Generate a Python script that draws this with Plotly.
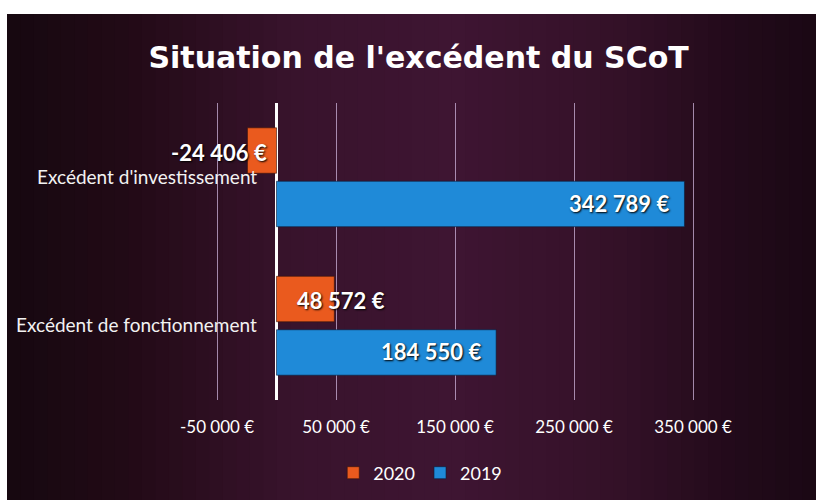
import plotly.graph_objects as go

categories = ["Excédent de fonctionnement", "Excédent d'investissement"]
values_2019 = [184550, 342789]
values_2020 = [48572, -24406]
tick_values = [-50000, 50000, 150000, 250000, 350000]
title_text = "Situation de l'excédent du SCoT"

NS = "\u202f"

def fmt(v):
    s = f"{abs(v):,d}".replace(",", NS)
    return ("-" if v < 0 else "") + s + NS + "€"

W, H = 816, 500
fig = go.Figure()

# background gradient strips (style only)
stops = [(0.0, (22, 8, 16)), (0.15, (34, 10, 22)), (0.35, (56, 19, 44)),
         (0.55, (62, 21, 50)), (0.75, (52, 17, 40)), (0.9, (34, 10, 26)), (1.0, (26, 8, 20))]

def col(t):
    for (a, ca), (b, cb) in zip(stops[:-1], stops[1:]):
        if a <= t <= b:
            f = (t - a) / (b - a)
            c = [round(ca[i] + (cb[i] - ca[i]) * f) for i in range(3)]
            return f"rgb({c[0]},{c[1]},{c[2]})"
    return "rgb(26,8,20)"

x0 = 7 / W
n = 60
shapes = []
for i in range(n):
    a = x0 + (1 - x0) * i / n
    b = x0 + (1 - x0) * (i + 1) / n + 0.002
    shapes.append(dict(type="rect", xref="paper", yref="paper", x0=a, x1=min(b, 1),
                       y0=0, y1=1 - 14 / H, fillcolor=col((i + 0.5) / n),
                       line=dict(width=0), layer="below"))

fig.add_trace(go.Bar(y=categories, x=values_2019, name="2019", orientation="h",
                     marker=dict(color="#1f8ad8", line=dict(color="rgba(10,30,60,0.6)", width=1)),
                     textposition="none", hoverinfo="skip"))
fig.add_trace(go.Bar(y=categories, x=values_2020, name="2020", orientation="h",
                     marker=dict(color="#ea5a1e", line=dict(color="rgba(60,20,10,0.6)", width=1)),
                     textposition="none", hoverinfo="skip"))

lab_font = dict(family="Lato, sans-serif", size=22, color="white",
                weight="bold", shadow="1px 1px 2px #000")
annotations = []
# 2019 labels: inside end
for c, v in zip(categories, values_2019):
    annotations.append(dict(x=v, y=c, xref="x", yref="y", text=fmt(v), showarrow=False,
                            xanchor="right", xshift=-12, yshift=-26, font=lab_font))
# 2020 labels: inside base
for c, v in zip(categories, values_2020):
    annotations.append(dict(x=0, y=c, xref="x", yref="y", text=fmt(v), showarrow=False,
                            xanchor="right" if v < 0 else "left",
                            xshift=-8 if v < 0 else 18, yshift=25, font=lab_font))
# category labels next to the zero axis
for c in categories:
    annotations.append(dict(x=0, y=c, xref="x", yref="y", text=c, showarrow=False,
                            xanchor="right", xshift=-18, yshift=1,
                            font=dict(family="Lato, sans-serif", size=19, color="#f2f2f2")))

upp = 840.3
r0 = -276.5 * upp
r1 = r0 + W * upp

fig.update_layout(
    width=W, height=H,
    paper_bgcolor="white", plot_bgcolor="rgba(0,0,0,0)",
    margin=dict(l=0, r=0, t=0, b=0),
    shapes=shapes, annotations=annotations,
    barmode="group", bargap=0.28, bargroupgap=0.15,
    separators=", ",
    title=dict(text=f"<b>{title_text}</b>", x=0.513, xanchor="center", y=1 - 57 / H,
               yanchor="middle", font=dict(family="DejaVu Sans, sans-serif", size=30, color="white")),
    xaxis=dict(range=[r0, r1], domain=[0, 1], tickvals=tick_values,
               ticktext=[fmt(v) for v in tick_values],
               showgrid=True, gridcolor="rgba(215,190,230,0.7)", gridwidth=1,
               zeroline=True, zerolinecolor="white", zerolinewidth=3,
               ticks="outside", ticklen=0, ticklabelstandoff=12,
               tickfont=dict(family="Lato, sans-serif", size=17, color="white"),
               showline=False, fixedrange=True),
    yaxis=dict(domain=[100 / H, (H - 103) / H], range=[-0.5, 1.5], showticklabels=False,
               showgrid=False, zeroline=False, ticks="", fixedrange=True),
    legend=dict(orientation="h", x=0.515, xanchor="center", y=27 / H, yanchor="middle",
                traceorder="reversed", font=dict(family="Lato, sans-serif", size=18, color="white"),
                bgcolor="rgba(0,0,0,0)", itemwidth=30),
    showlegend=True,
)

fig.write_html("out.html", config={"displayModeBar": False},
               post_script="document.body.style.margin='0';document.body.style.overflow='hidden';")
